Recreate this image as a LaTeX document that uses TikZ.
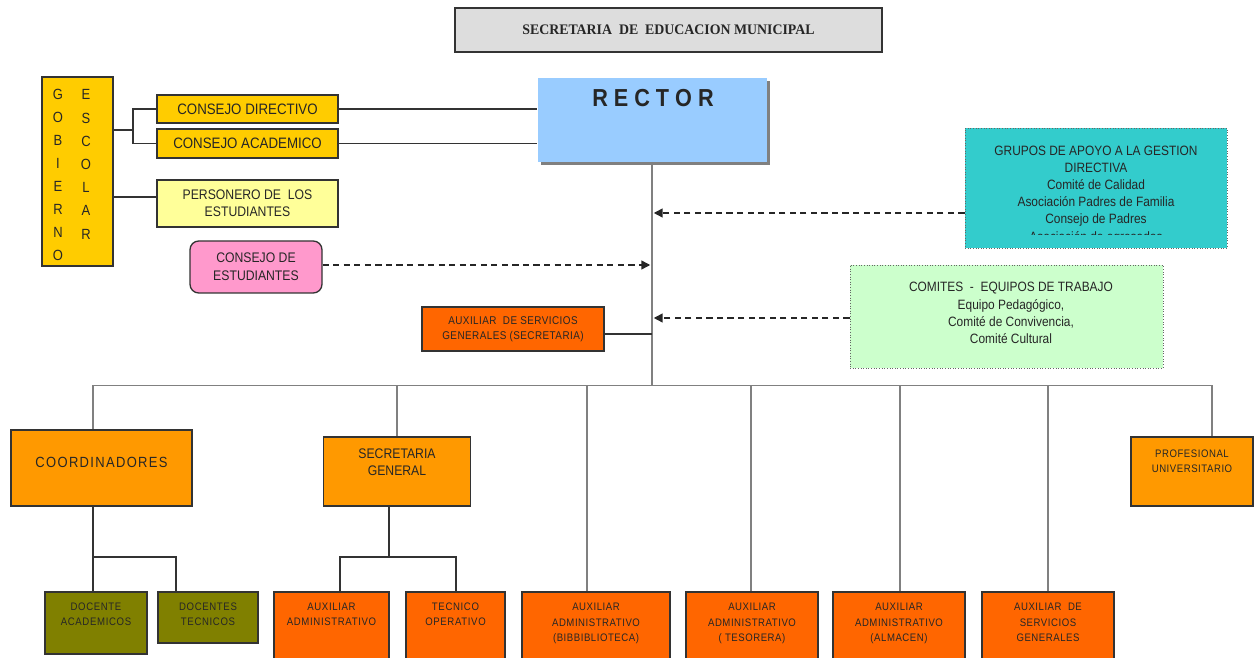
\documentclass[tikz,border=0pt]{standalone}
\usepackage{fontspec}
\setmainfont{Liberation Sans}[FakeStretch=0.88]
\newfontfamily\titlefont{Liberation Serif}[FakeStretch=0.95]
\usetikzlibrary{arrows.meta,shadows}
\newcommand{\fsz}[2]{\fontsize{#1}{#2}\selectfont}
\definecolor{titlegray}{HTML}{DDDDDD}
\definecolor{gold}{HTML}{FFCC00}
\definecolor{paleyellow}{HTML}{FFFF99}
\definecolor{pinkbox}{HTML}{FF99CC}
\definecolor{rectorblue}{HTML}{99CCFF}
\definecolor{tealbox}{HTML}{33CCCC}
\definecolor{mintbox}{HTML}{CCFFCC}
\definecolor{orangedark}{HTML}{FF6600}
\definecolor{orangelight}{HTML}{FF9900}
\definecolor{olivebox}{HTML}{808000}
\definecolor{trunkgray}{HTML}{808080}
\begin{document}
\begin{tikzpicture}[x=0.02cm,y=-0.02cm,
  sz/.style 2 args={minimum width=#1*0.02cm, minimum height=#2*0.02cm},
  box/.style={draw=black!80, line width=0.75pt, inner sep=0pt, text=black!85},
  dotbox/.style={draw=black!60, densely dotted, line width=0.5pt, inner sep=0pt},
  txt/.style={inner sep=0pt, text=black!85},
  conn/.style={draw=black!80, line width=0.8pt},
  trunk/.style={draw=trunkgray, line width=1.1pt},
  dasharrow/.style={draw=black!85, line width=0.8pt, dash pattern=on 3.5pt off 2.5pt, -{Triangle[length=5pt,width=5pt]}},
  ]
\useasboundingbox (0,0) rectangle (1259,658);

% title
\node[box, fill=titlegray, sz={427}{44}, font=\titlefont\bfseries\fsz{8.3}{10}] (title) at (668.5,30) {SECRETARIA\ \ DE\ \ EDUCACION MUNICIPAL};

% gobierno escolar
\node[box, fill=gold, sz={71}{189}] (gob) at (77.5,171.5) {};
\foreach \l [count=\i] in {G,O,B,I,E,R,N,O}
  \node[txt, anchor=base, font=\fsz{8.4}{10}] (gA\i) at (58,{100+(\i-1)*23}) {\l};
\foreach \l [count=\i] in {E,S,C,O,L,A,R}
  \node[txt, anchor=base, font=\fsz{8.4}{10}] (gB\i) at (86,{100+(\i-1)*23.2}) {\l};

\node[box, fill=gold, sz={181}{28}, font=\fsz{8.6}{10}] (cd) at (247.5,109) {CONSEJO DIRECTIVO};
\node[box, fill=gold, sz={181}{29}, font=\fsz{8.6}{10}] (ca) at (247.5,143.5) {CONSEJO ACADEMICO};
\node[box, fill=paleyellow, sz={181}{47}, font=\fsz{7.9}{9.7}, align=center] (pers) at (247.5,203.5) {PERSONERO DE\ \ LOS\\ESTUDIANTES};
\node[box, rounded corners=5pt, fill=pinkbox, sz={132}{52}, font=\fsz{7.9}{10.2}, align=center] (cest) at (256,267) {CONSEJO DE\\ESTUDIANTES};

\coordinate (gj) at (133,130);
\coordinate (pj) at (0,197);
\draw[conn] (gob.east |- gj) -- (gj);
\draw[conn] (cd.west) -| (gj) |- (ca.west);
\draw[conn] (gob.east |- pj) -- (pers.west |- pj);

% rector
\node[box, draw=none, fill=rectorblue, sz={229}{84}, drop shadow={shadow xshift=1.8pt, shadow yshift=-1.8pt, fill=trunkgray, opacity=1}] (rector) at (652.5,120) {};
\node[txt, font=\bfseries\fsz{14}{16}] (rectorT) at (653,98) {R E C T O R};
\draw[conn] (cd.east) -- (cd.east -| rector.west);
\draw[conn] (ca.east) -- (ca.east -| rector.west);

% trunk and bus
\coordinate (tr) at (652,162);
\coordinate (bus) at (652,385.5);
\draw[trunk] (tr) -- (bus);

% grupos de apoyo
\node[dotbox, fill=tealbox, sz={262}{120}] (grupos) at (1096,188) {};
\node[txt, anchor=base, font=\fsz{7.7}{9.8}, align=center] (gruposT) at (1096,224) {GRUPOS DE APOYO A LA GESTION\\DIRECTIVA\\Comité de Calidad\\Asociación Padres de Familia\\Consejo de Padres};
\begin{scope}
\clip (965,128) rectangle (1227,235);
\node[txt, anchor=base, font=\fsz{7.7}{9.8}] (gruposX) at (1096,241.5) {Asociación de egresados};
\end{scope}

% comites
\node[dotbox, fill=mintbox, sz={313}{103}] (comites) at (1006.5,316.5) {};
\node[txt, anchor=base, font=\fsz{7.7}{9.9}, align=center] (comitesT) at (1011,344) {COMITES\ \ -\ \ EQUIPOS DE TRABAJO\\Equipo Pedagógico,\\Comité de Convivencia,\\Comité Cultural};

% auxiliar servicios generales (secretaria)
\node[box, fill=orangedark, sz={182}{44}, font=\fsz{6.4}{8.6}, align=center] (auxsg) at (513,329) {\addfontfeature{LetterSpace=4}AUXILIAR\ \ DE SERVICIOS\\\addfontfeature{LetterSpace=4}GENERALES (SECRETARIA)};
\coordinate (aj) at (0,334);

% arrows to trunk
\coordinate (t1) at (652,213);
\coordinate (t2) at (652,265);
\coordinate (t3) at (652,318);
\draw[dasharrow] (grupos.west |- t1) -- ([xshift=1pt]t1);
\draw[dasharrow] (cest.east |- t2) -- ([xshift=-1pt]t2);
\draw[dasharrow] (comites.west |- t3) -- ([xshift=1pt]t3);
\draw[conn] (auxsg.east |- aj) -- (t1 |- aj);

% second level
\node[box, fill=orangelight, sz={181}{76}] (coord) at (101.5,468) {};
\node[txt, font=\fsz{8.4}{10}] (coordT) at (101.5,462) {\addfontfeature{LetterSpace=9}COORDINADORES};
\node[box, fill=orangelight, sz={147}{69}] (secgen) at (397,471.5) {};
\node[txt, anchor=base, font=\fsz{7.9}{9.9}, align=center] (secgenT) at (397,475.5) {SECRETARIA\\GENERAL};
\node[box, fill=orangelight, sz={122}{69}] (prof) at (1192,471.5) {};
\node[txt, anchor=base, font=\fsz{6.2}{9}, align=center] (profT) at (1192,473) {\addfontfeature{LetterSpace=5}PROFESIONAL\\\addfontfeature{LetterSpace=5}UNIVERSITARIO};

% bottom level
\node[box, fill=olivebox, sz={102}{62}] (docA) at (96,623) {};
\node[txt, anchor=base, font=\fsz{6.2}{9}, align=center] (docAT) at (96,626) {\addfontfeature{LetterSpace=6}DOCENTE\\\addfontfeature{LetterSpace=6}ACADEMICOS};
\node[box, fill=olivebox, sz={100}{51}] (docT) at (208,617.5) {};
\node[txt, anchor=base, font=\fsz{6.2}{9}, align=center] (docTT) at (208,626) {\addfontfeature{LetterSpace=6}DOCENTES\\\addfontfeature{LetterSpace=6}TECNICOS};

\node[box, fill=orangedark, sz={115}{90}] (auxadm) at (331.5,637) {};
\node[txt, anchor=base, font=\fsz{6.2}{9}, align=center] (auxadmT) at (331.5,626) {\addfontfeature{LetterSpace=6}AUXILIAR\\\addfontfeature{LetterSpace=6}ADMINISTRATIVO};
\node[box, fill=orangedark, sz={99}{90}] (tecop) at (455.5,637) {};
\node[txt, anchor=base, font=\fsz{6.2}{9}, align=center] (tecopT) at (455.5,626) {\addfontfeature{LetterSpace=6}TECNICO\\\addfontfeature{LetterSpace=6}OPERATIVO};
\node[box, fill=orangedark, sz={148}{90}] (bibl) at (596,637) {};
\node[txt, anchor=base, font=\fsz{6.2}{9}, align=center] (biblT) at (596,642) {\addfontfeature{LetterSpace=5}AUXILIAR\\\addfontfeature{LetterSpace=5}ADMINISTRATIVO\\\addfontfeature{LetterSpace=5}(BIBBIBLIOTECA)};
\node[box, fill=orangedark, sz={132}{90}] (teso) at (752,637) {};
\node[txt, anchor=base, font=\fsz{6.2}{9}, align=center] (tesoT) at (752,642) {\addfontfeature{LetterSpace=5}AUXILIAR\\\addfontfeature{LetterSpace=5}ADMINISTRATIVO\\\addfontfeature{LetterSpace=5}( TESORERA)};
\node[box, fill=orangedark, sz={132}{90}] (alma) at (899,637) {};
\node[txt, anchor=base, font=\fsz{6.2}{9}, align=center] (almaT) at (899,642) {\addfontfeature{LetterSpace=5}AUXILIAR\\\addfontfeature{LetterSpace=5}ADMINISTRATIVO\\\addfontfeature{LetterSpace=5}(ALMACEN)};
\node[box, fill=orangedark, sz={132}{90}] (serv) at (1048,637) {};
\node[txt, anchor=base, font=\fsz{6.2}{9}, align=center] (servT) at (1048,642) {\addfontfeature{LetterSpace=5}AUXILIAR\ \ DE\\\addfontfeature{LetterSpace=5}SERVICIOS\\\addfontfeature{LetterSpace=5}GENERALES};

% bus connectors
\coordinate (b1) at (93,385.5);
\coordinate (b2) at (1212,385.5);
\draw[trunk] (b1) -- (b2);
\draw[trunk] (b1) -- (coord.north -| b1);
\draw[trunk] (secgen.north |- b1) -- (secgen.north);
\coordinate (b3) at (587,385.5);
\coordinate (b4) at (751,385.5);
\coordinate (b5) at (900,385.5);
\coordinate (b6) at (1048,385.5);
\draw[trunk] (b3) -- (bibl.north -| b3);
\draw[trunk] (b4) -- (teso.north -| b4);
\draw[trunk] (b5) -- (alma.north -| b5);
\draw[trunk] (b6) -- (serv.north -| b6);
\draw[trunk] (b2) -- (prof.north -| b2);

% coordinadores branch
\coordinate (cj1) at (93,557);
\coordinate (cj2) at (176,557);
\draw[conn] (coord.south -| cj1) -- (cj1) -- (cj2) -- (docT.north -| cj2);
\draw[conn] (cj1) -- (docA.north -| cj1);

% secretaria general branch
\coordinate (sj) at (389,557);
\coordinate (sj1) at (340,557);
\coordinate (sj2) at (456,557);
\draw[conn] (secgen.south -| sj) -- (sj);
\draw[conn] (auxadm.north -| sj1) -- (sj1) -- (sj2) -- (tecop.north -| sj2);
\end{tikzpicture}
\end{document}
